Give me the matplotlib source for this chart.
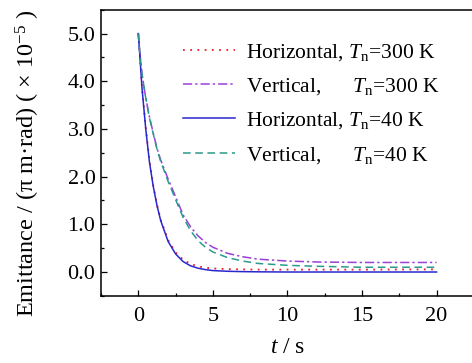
import matplotlib
matplotlib.use("Agg")
import matplotlib.pyplot as plt
from matplotlib.ticker import MultipleLocator

plt.rcParams['font.family'] = ['Liberation Serif', 'DejaVu Serif']
plt.rcParams['mathtext.fontset'] = 'custom'
plt.rcParams['mathtext.rm'] = 'Liberation Serif'
plt.rcParams['mathtext.it'] = 'Liberation Serif:italic'

# time (s)
t = [0, 0.1, 0.25, 0.5, 0.75, 1, 1.25, 1.5, 2, 2.5, 3, 3.5, 4, 4.5, 5,
     6, 7, 8, 10, 12, 15, 20]

# emittance (x 1e-5 pi m rad)
horiz_300 = [5.0, 4.56, 3.87, 3.02, 2.33, 1.82, 1.42, 1.1, 0.67, 0.41, 0.26,
             0.17, 0.12, 0.09, 0.075, 0.06, 0.055, 0.05, 0.05, 0.05, 0.05, 0.055]
vert_300 = [5.0, 4.6, 4.15, 3.65, 3.25, 2.92, 2.6, 2.35, 1.95, 1.58, 1.2,
            0.95, 0.76, 0.62, 0.52, 0.39, 0.32, 0.27, 0.23, 0.21, 0.2, 0.2]
horiz_40 = [5.0, 4.55, 3.85, 3.0, 2.3, 1.8, 1.4, 1.08, 0.64, 0.38, 0.22,
            0.13, 0.08, 0.05, 0.03, 0.015, 0.008, 0.004, 0.0, 0.0, 0.0, 0.0]
vert_40 = [5.0, 4.6, 4.15, 3.65, 3.23, 2.9, 2.58, 2.32, 1.9, 1.52, 1.15,
           0.87, 0.66, 0.52, 0.42, 0.3, 0.23, 0.18, 0.14, 0.12, 0.1, 0.1]

labels = ['Horizontal, $T_\\mathrm{n}$=300 K',
          'Vertical,      $T_\\mathrm{n}$=300 K',
          'Horizontal, $T_\\mathrm{n}$=40 K',
          'Vertical,      $T_\\mathrm{n}$=40 K']

fig = plt.figure(figsize=(4.72, 3.63), dpi=100)
ax = fig.add_axes([0.214, 0.185, 0.79, 0.788])

ax.plot(t, horiz_300, color='#e8202a', ls=(0, (1, 3)), lw=1.3, label=labels[0])
ax.plot(t, vert_300, color='#9b40d8', ls=(0, (6, 2, 1.5, 2)), lw=1.1, label=labels[1])
ax.plot(t, horiz_40, color='#2828d0', ls='-', lw=1.1, label=labels[2])
ax.plot(t, vert_40, color='#2a9a8c', ls=(0, (5, 3)), lw=1.1, label=labels[3])

ax.set_xlim(-2.5, 22.5)
ax.set_ylim(-0.5, 5.5)
ax.xaxis.set_major_locator(MultipleLocator(5))
ax.xaxis.set_minor_locator(MultipleLocator(2.5))
ax.yaxis.set_major_locator(MultipleLocator(1))
ax.yaxis.set_minor_locator(MultipleLocator(0.5))
ax.set_yticks([0, 1, 2, 3, 4, 5])
ax.set_yticklabels(['0.0', '1.0', '2.0', '3.0', '4.0', '5.0'])
ax.tick_params(which='both', direction='in', labelsize=16, top=False, right=False)
ax.tick_params(which='major', length=4.5, width=0.9)
ax.tick_params(which='minor', length=2.5, width=0.9)
ax.tick_params(axis='x', pad=8)
ax.tick_params(axis='y', pad=4)
for s in ax.spines.values():
    s.set_linewidth(1.1)

ax.set_xlabel('$t$ / s', fontsize=17, labelpad=8)
ax.set_ylabel('Emittance / (π m·rad) ( × 10$^{-5}$ )', fontsize=17.5)
ax.yaxis.set_label_coords(-0.158, 0.462)

ax.legend(loc='upper right', bbox_to_anchor=(0.96, 0.955), frameon=False,
          fontsize=15.5, handlelength=2.4, labelspacing=0.62, handletextpad=0.5)

fig.savefig('out.png', dpi=100)
